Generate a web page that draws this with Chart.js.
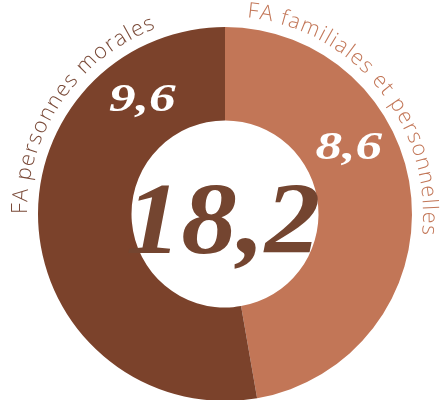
<!DOCTYPE html>
<html>
<head>
<meta charset="utf-8">
<script src="https://cdn.jsdelivr.net/npm/chart.js@4"></script>
<style>
  html, body { margin: 0; padding: 0; background: #fff; overflow: hidden; }
  #wrap { position: relative; width: 440px; height: 402px; }
</style>
</head>
<body>
<div id="wrap"><canvas id="c"></canvas></div>
<script>
// données
const labels = ['FA familiales et personnelles', 'FA personnes morales'];
const values = [8.6, 9.6];
const colors = ['#c27657', '#7b422b'];
const labelColors = ['#c27657', '#7a4a38'];

const fmt = (v) => v.toFixed(1).replace('.', ',');
const deg = (d) => d * Math.PI / 180;

// texte courbé autour de l'anneau + valeurs + total
const ringText = {
  id: 'ringText',
  afterDraw(chart, args, opts) {
    const { ctx } = chart;
    const arcs = chart.getDatasetMeta(0).data;
    const { x: cx, y: cy, outerRadius } = arcs[0];

    // libellés courbés
    ctx.save();
    ctx.font = '300 21.5px "Open Sans"';
    ctx.textBaseline = 'alphabetic';
    labels.forEach((txt, i) => {
      const r = outerRadius + opts.gap;
      const a0 = deg(opts.labelStart[i]);
      ctx.fillStyle = labelColors[i];
      for (let k = 0; k < txt.length; k++) {
        const off = ctx.measureText(txt.slice(0, k)).width + k * opts.tracking;
        ctx.save();
        ctx.translate(cx, cy);
        ctx.rotate(a0 + off / r);
        ctx.textAlign = 'left';
        ctx.fillText(txt[k], 0, -r);
        ctx.restore();
      }
    });
    ctx.restore();

    // valeurs dans les segments
    ctx.save();
    ctx.fillStyle = '#fff';
    ctx.textAlign = 'center';
    ctx.textBaseline = 'middle';
    arcs.forEach((arc, i) => {
      const t = opts.valuePos[i];
      const a = arc.startAngle + (arc.endAngle - arc.startAngle) * t;
      const r = (arc.innerRadius + arc.outerRadius) / 2;
      ctx.save();
      ctx.translate(cx + Math.cos(a) * r, cy + Math.sin(a) * r);
      ctx.scale(1.3, 1);
      ctx.font = 'italic bold 41px "Liberation Serif"';
      ctx.fillText(fmt(values[i]), 0, 0);
      ctx.restore();
    });
    ctx.restore();

    // total au centre
    const total = values.reduce((s, v) => s + v, 0);
    ctx.save();
    ctx.fillStyle = '#744530';
    ctx.textAlign = 'center';
    ctx.textBaseline = 'alphabetic';
    ctx.translate(cx - 2, cy + 39);
    ctx.scale(1.09, 1);
    ctx.font = 'italic bold 102px "Liberation Serif"';
    ctx.fillText(fmt(total), 0, 0);
    ctx.restore();
  }
};

new Chart(document.getElementById('c'), {
  type: 'doughnut',
  data: {
    labels,
    datasets: [{ data: values, backgroundColor: colors, borderWidth: 0, hoverOffset: 0 }]
  },
  options: {
    responsive: true,
    maintainAspectRatio: false,
    animation: false,
    cutout: '50%',
    layout: { padding: { left: 38, right: 28, top: 27, bottom: 1 } },
    plugins: {
      legend: { display: false },
      tooltip: { enabled: false },
      ringText: { gap: 11, tracking: 1.3, labelStart: [6.4, -90], valuePos: [0.365, 0.81] }
    }
  },
  plugins: [ringText]
});
</script>
</body>
</html>
